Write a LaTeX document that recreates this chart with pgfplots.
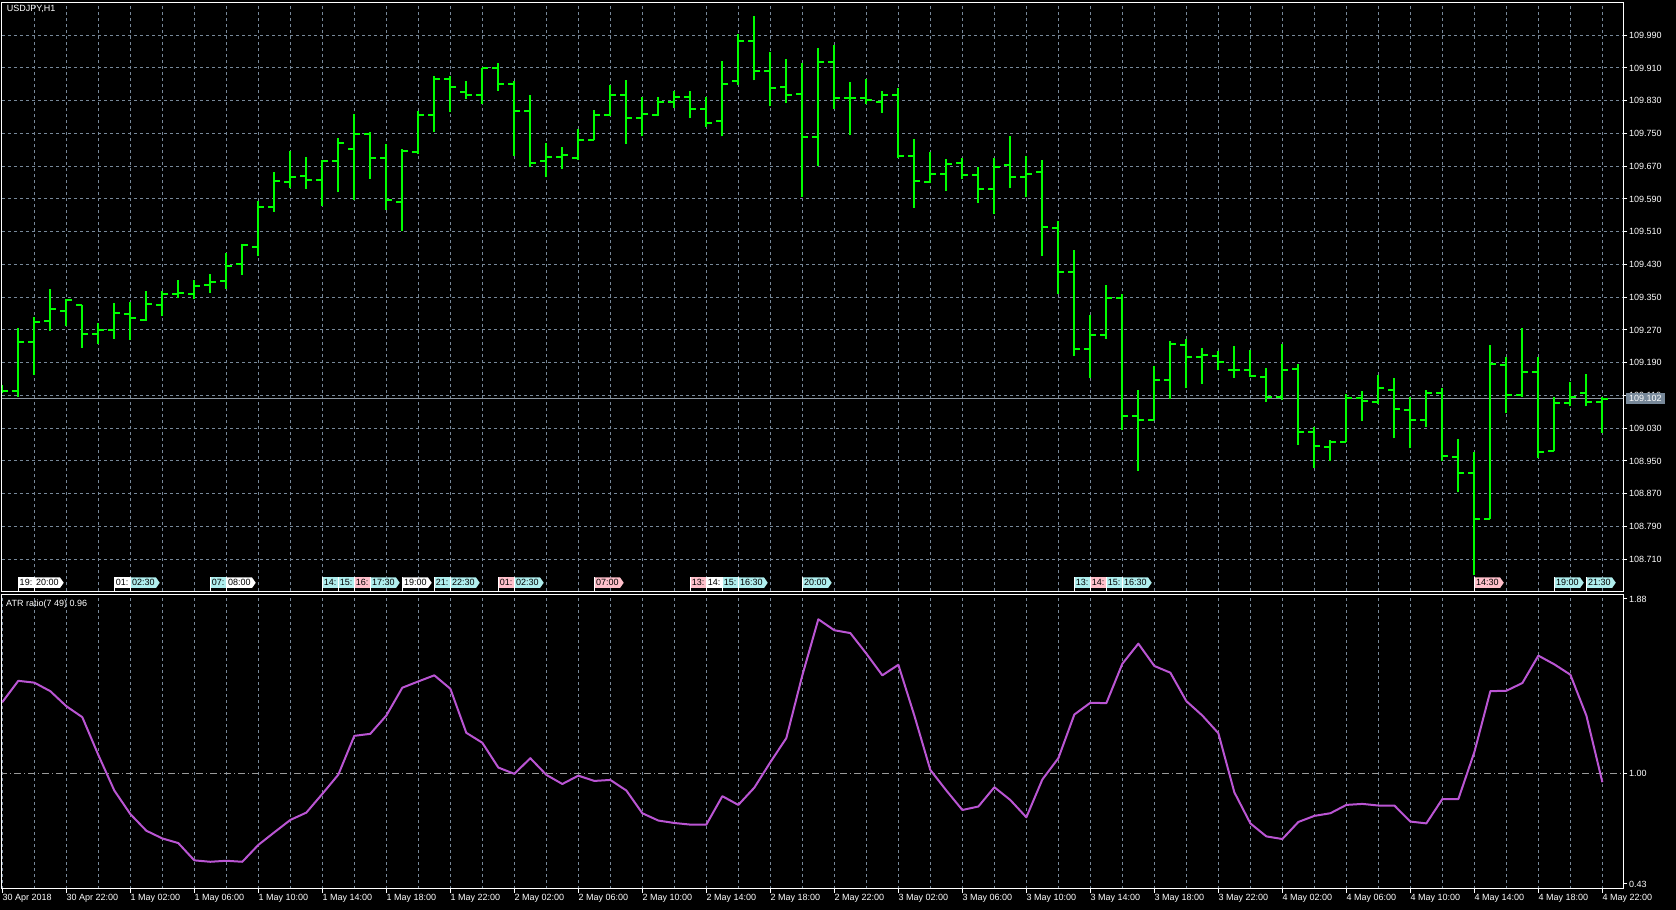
\documentclass[border=0pt]{standalone}
\usepackage{fontspec}
\setmainfont{Liberation Sans}
\usepackage{pgfplots}
\pgfplotsset{compat=1.18}
\usepackage{pgfplotstable}
\usetikzlibrary{shapes.symbols}

\definecolor{gridc}{HTML}{778899}
\definecolor{barg}{HTML}{00FF00}
\definecolor{atrc}{HTML}{BA55D3}
\definecolor{mkcyan}{HTML}{AFEEEE}
\definecolor{mkpink}{HTML}{FFC0CB}
\definecolor{lvl}{HTML}{9A9A9A}
\definecolor{pricel}{HTML}{8C96A0}

\newcommand{\mtfont}{\fontsize{9}{10}\selectfont}

% truncated news marker: bar, colour, text
\newcommand{\mkT}[3]{%
  \node[anchor=south west, fill=#2, inner sep=0pt, minimum width=15pt, minimum height=10.5pt,
        font=\mtfont, text=black, yshift=3.5pt] at (axis cs:#1,108.631) {#3};
  \draw[white, line width=1pt] (axis cs:#1,108.631) -- ++(0pt,14pt);
}
% full news marker with pointer
\newcommand{\mkF}[3]{%
  \node[signal, signal to=east, signal pointer angle=110, anchor=west, fill=#2,
        inner xsep=1.5pt, inner ysep=0pt, minimum height=10.5pt,
        font=\mtfont, text=black, yshift=8.75pt] at (axis cs:#1,108.631) {#3};
  \draw[white, line width=1pt] (axis cs:#1,108.631) -- ++(0pt,14pt);
}

\pgfplotstableread{
i O H L C
0 109.125 109.135 109.115 109.122
1 109.122 109.275 109.105 109.241
2 109.241 109.301 109.160 109.290
3 109.293 109.371 109.268 109.320
4 109.317 109.345 109.280 109.343
5 109.331 109.331 109.227 109.261
6 109.261 109.286 109.235 109.270
7 109.270 109.335 109.249 109.311
8 109.309 109.339 109.246 109.298
9 109.294 109.364 109.292 109.334
10 109.332 109.364 109.305 109.358
11 109.359 109.391 109.347 109.361
12 109.358 109.392 109.345 109.378
13 109.380 109.406 109.361 109.388
14 109.389 109.457 109.371 109.427
15 109.432 109.481 109.405 109.478
16 109.473 109.585 109.451 109.571
17 109.571 109.657 109.559 109.634
18 109.632 109.706 109.617 109.644
19 109.647 109.692 109.615 109.636
20 109.636 109.685 109.574 109.683
21 109.683 109.740 109.606 109.727
22 109.713 109.797 109.587 109.749
23 109.749 109.753 109.639 109.689
24 109.689 109.724 109.564 109.587
25 109.583 109.711 109.512 109.706
26 109.705 109.806 109.699 109.796
27 109.796 109.891 109.754 109.882
28 109.882 109.891 109.802 109.864
29 109.852 109.877 109.835 109.844
30 109.845 109.911 109.823 109.911
31 109.911 109.921 109.854 109.872
32 109.872 109.877 109.694 109.805
33 109.805 109.843 109.667 109.678
34 109.683 109.726 109.643 109.693
35 109.693 109.718 109.663 109.698
36 109.691 109.762 109.686 109.735
37 109.735 109.807 109.734 109.796
38 109.794 109.868 109.792 109.845
39 109.845 109.880 109.725 109.787
40 109.787 109.840 109.743 109.798
41 109.796 109.840 109.792 109.827
42 109.827 109.855 109.813 109.840
43 109.838 109.853 109.789 109.811
44 109.811 109.839 109.767 109.776
45 109.781 109.926 109.743 109.872
46 109.879 109.992 109.869 109.977
47 109.977 110.036 109.880 109.903
48 109.903 109.948 109.816 109.861
49 109.863 109.933 109.825 109.845
50 109.847 109.921 109.594 109.742
51 109.742 109.960 109.670 109.924
52 109.924 109.966 109.810 109.837
53 109.837 109.876 109.747 109.837
54 109.837 109.884 109.821 109.832
55 109.827 109.853 109.801 109.843
56 109.845 109.860 109.690 109.695
57 109.695 109.736 109.568 109.635
58 109.632 109.704 109.629 109.652
59 109.652 109.687 109.610 109.676
60 109.679 109.689 109.638 109.649
61 109.649 109.668 109.580 109.615
62 109.615 109.689 109.554 109.668
63 109.673 109.745 109.618 109.644
64 109.644 109.694 109.594 109.652
65 109.656 109.684 109.451 109.522
66 109.520 109.537 109.359 109.412
67 109.412 109.465 109.206 109.224
68 109.224 109.307 109.153 109.258
69 109.258 109.381 109.249 109.347
70 109.347 109.359 109.026 109.059
71 109.059 109.124 108.926 109.050
72 109.050 109.181 109.050 109.148
73 109.148 109.244 109.102 109.235
74 109.234 109.249 109.127 109.203
75 109.203 109.225 109.139 109.209
76 109.206 109.218 109.171 109.192
77 109.173 109.231 109.153 109.171
78 109.173 109.220 109.154 109.157
79 109.155 109.176 109.095 109.106
80 109.106 109.235 109.098 109.173
81 109.175 109.187 108.990 109.021
82 109.021 109.034 108.932 108.987
83 108.985 109.002 108.949 108.997
84 108.997 109.113 108.997 109.103
85 109.103 109.122 109.048 109.096
86 109.095 109.160 109.088 109.127
87 109.124 109.153 109.005 109.078
88 109.075 109.106 108.982 109.051
89 109.051 109.124 109.034 109.116
90 109.116 109.127 108.951 108.961
91 108.959 109.003 108.873 108.920
92 108.920 108.973 108.672 108.808
93 108.808 109.233 108.808 109.186
94 109.184 109.204 109.066 109.112
95 109.112 109.275 109.106 109.168
96 109.168 109.204 108.957 108.972
97 108.974 109.106 108.974 109.092
98 109.092 109.143 109.083 109.107
99 109.115 109.163 109.083 109.095
100 109.094 109.106 109.019 109.102
}\ohlc

\pgfplotstableread{
i v
0 1.350
1 1.455
2 1.446
3 1.404
4 1.330
5 1.276
6 1.090
7 0.915
8 0.799
9 0.717
10 0.679
11 0.656
12 0.571
13 0.564
14 0.569
15 0.564
16 0.647
17 0.709
18 0.770
19 0.806
20 0.898
21 0.993
22 1.184
23 1.194
24 1.284
25 1.421
26 1.452
27 1.482
28 1.416
29 1.199
30 1.150
31 1.028
32 0.997
33 1.074
34 0.992
35 0.947
36 0.988
37 0.962
38 0.967
39 0.915
40 0.803
41 0.767
42 0.755
43 0.747
44 0.747
45 0.887
46 0.844
47 0.929
48 1.054
49 1.173
50 1.482
51 1.758
52 1.704
53 1.690
54 1.589
55 1.482
56 1.534
57 1.284
58 1.016
59 0.915
60 0.819
61 0.836
62 0.931
63 0.868
64 0.783
65 0.969
66 1.074
67 1.289
68 1.347
69 1.345
70 1.539
71 1.638
72 1.528
73 1.495
74 1.355
75 1.284
76 1.197
77 0.906
78 0.753
79 0.689
80 0.676
81 0.760
82 0.790
83 0.803
84 0.844
85 0.849
86 0.841
87 0.841
88 0.762
89 0.753
90 0.873
91 0.873
92 1.104
93 1.404
94 1.406
95 1.444
96 1.579
97 1.536
98 1.485
99 1.284
100 0.956
}\atr

\pgfplotsset{mtaxis/.style={
  scale only axis, width=1621pt,
  xmin=-0.019, xmax=101.29,
  axis line style={white, line width=1pt},
  tick style={white, line width=1pt},
  ticklabel style={font=\mtfont, text=white},
  /pgf/number format/assume math mode=true,
  major grid style={gridc, line width=1pt, dash pattern=on 3pt off 3pt},
  minor grid style={gridc, line width=1pt, dash pattern=on 3pt off 3pt},
  major tick length=4pt, minor tick length=0pt,
  ytick pos=right, yticklabel pos=right, ytick align=outside,
  yticklabel style={anchor=west, inner sep=0pt},
  yticklabel shift=2pt,
}}

\begin{document}
\begin{tikzpicture}[x=1pt,y=1pt]
\fill[black] (0,0) rectangle (1676,910);

% ---------------- main price panel ----------------
\begin{axis}[mtaxis,
  at={(2pt,318.5pt)}, anchor=south west, height=589pt,
  ymin=108.631, ymax=110.070,
  xtick={2,4,...,100}, xticklabels={}, xtick style={draw=none}, xmajorgrids,
  ytick={108.71,108.79,108.87,108.95,109.03,109.11,109.19,109.27,109.35,109.43,109.51,109.59,109.67,109.75,109.83,109.91,109.99},
  yticklabels={108.710,108.790,108.870,108.950,109.030,109.110,109.190,109.270,109.350,109.430,109.510,109.590,109.670,109.750,109.830,109.910,109.990},
  ymajorgrids,
]
\addplot[pricel, line width=1pt] coordinates {(-1,109.102) (103,109.102)};
% high-low
\addplot[draw=none, mark=none, error bars/.cd, y dir=plus, y explicit, error mark=none,
  error bar style={draw=barg, line width=2pt}]
  table[x=i, y=L, y error expr=\thisrow{H}-\thisrow{L}] {\ohlc};
% open ticks
\addplot[draw=none, mark=none, error bars/.cd, x dir=minus, x fixed=0.375, error mark=none,
  error bar style={draw=barg, line width=2pt}]
  table[x=i, y=O] {\ohlc};
% close ticks
\addplot[draw=none, mark=none, error bars/.cd, x dir=plus, x fixed=0.375, error mark=none,
  error bar style={draw=barg, line width=2pt}]
  table[x=i, y=C] {\ohlc};

\node[anchor=north west, inner sep=0pt, font=\mtfont, text=white, xshift=4.7pt, yshift=-2.2pt]
  at (rel axis cs:0,1) {USDJPY,H1};

\mkT{1}{white}{19:}
\mkF{2}{white}{20:00}
\mkT{7}{white}{01:}
\mkF{8}{mkcyan}{02:30}
\mkT{13}{mkcyan}{07:}
\mkF{14}{white}{08:00}
\mkT{20}{mkcyan}{14:}
\mkT{21}{mkcyan}{15:}
\mkT{22}{mkpink}{16:}
\mkF{23}{mkcyan}{17:30}
\mkF{25}{white}{19:00}
\mkT{27}{mkcyan}{21:}
\mkF{28}{mkcyan}{22:30}
\mkT{31}{mkpink}{01:}
\mkF{32}{mkcyan}{02:30}
\mkF{37}{mkpink}{07:00}
\mkT{43}{mkpink}{13:}
\mkT{44}{white}{14:}
\mkT{45}{mkcyan}{15:}
\mkF{46}{mkcyan}{16:30}
\mkF{50}{mkcyan}{20:00}
\mkT{67}{mkcyan}{13:}
\mkT{68}{mkpink}{14:}
\mkT{69}{mkcyan}{15:}
\mkF{70}{mkcyan}{16:30}
\mkF{92}{mkpink}{14:30}
\mkF{97}{mkcyan}{19:00}
\mkF{99}{mkcyan}{21:30}

\coordinate (pl) at (axis cs:101.29,109.102);
\end{axis}

\node[fill=gridc, text=white, font=\mtfont, inner xsep=3pt, inner ysep=0pt,
      minimum height=11.5pt, anchor=west] at ([xshift=3pt]pl) {109.102};

% ---------------- ATR ratio panel ----------------
\begin{axis}[mtaxis,
  at={(2pt,21pt)}, anchor=south west, height=294.5pt,
  ymin=0.43, ymax=1.88,
  xtick={0,4,...,100}, minor x tick num=1, xmajorgrids, xminorgrids,
  xtick pos=bottom, xticklabel pos=bottom, xtick align=outside,
  xticklabel style={anchor=north west, inner sep=0pt},
  xticklabel shift=1.5pt,
  xticklabels={30 Apr 2018,30 Apr 22:00,1 May 02:00,1 May 06:00,1 May 10:00,1 May 14:00,1 May 18:00,1 May 22:00,2 May 02:00,2 May 06:00,2 May 10:00,2 May 14:00,2 May 18:00,2 May 22:00,3 May 02:00,3 May 06:00,3 May 10:00,3 May 14:00,3 May 18:00,3 May 22:00,4 May 02:00,4 May 06:00,4 May 10:00,4 May 14:00,4 May 18:00,4 May 22:00},
  ytick={0.455,1.00,1.858}, yticklabels={0.43,1.00,1.88},
]
\addplot[lvl, line width=1pt, dash pattern=on 7pt off 3pt on 1pt off 3pt] coordinates {(-1,1) (103,1)};
\addplot[atrc, line width=2pt, line join=round] table[x=i, y=v] {\atr};
\node[anchor=north west, inner sep=0pt, font=\mtfont, text=white, xshift=4pt, yshift=-5pt]
  at (rel axis cs:0,1) {ATR ratio(7 49) 0.96};
\end{axis}

\pgfresetboundingbox
\path[use as bounding box] (0,0) rectangle (1676,910);
\end{tikzpicture}
\end{document}
